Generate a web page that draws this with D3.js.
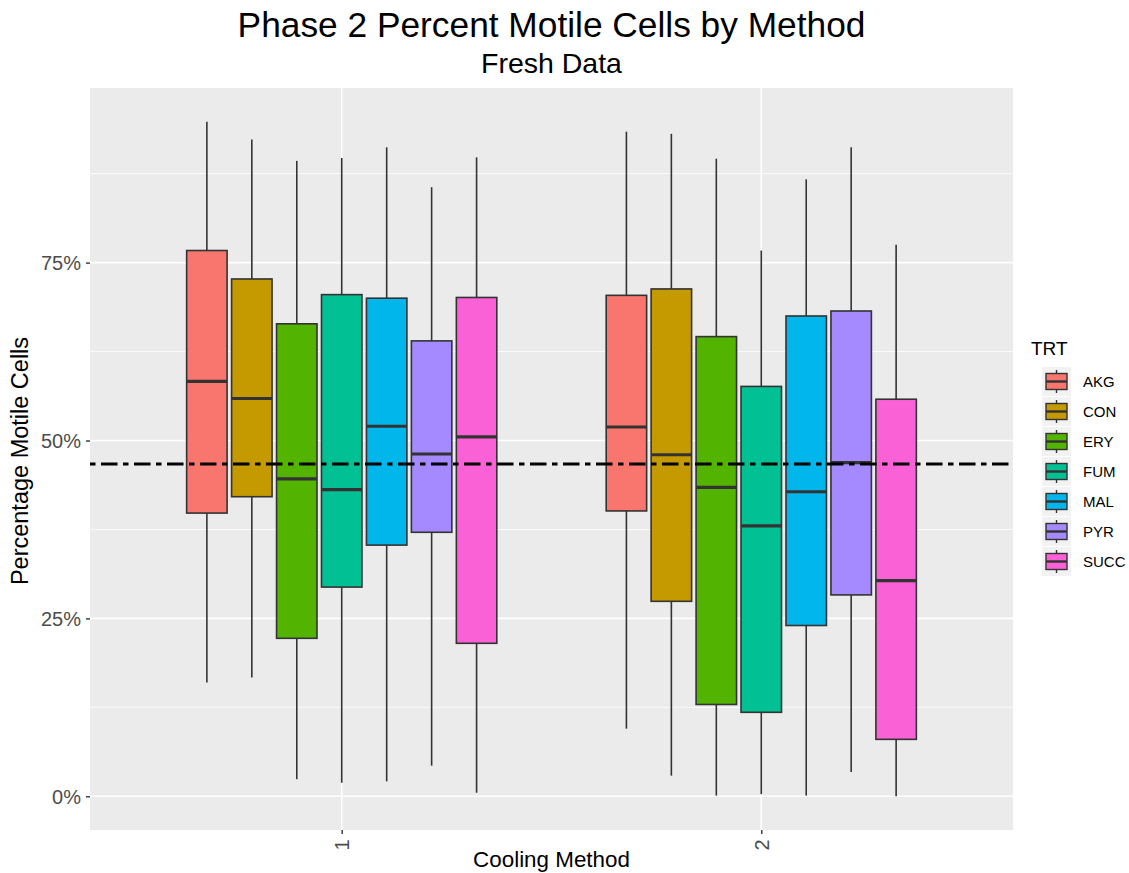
<!DOCTYPE html>
<html>
<head>
<meta charset="utf-8">
<script src="https://cdn.jsdelivr.net/npm/d3@7/dist/d3.min.js"></script>
<style>
  html, body { margin: 0; padding: 0; background: #ffffff; }
  svg { display: block; font-family: "Liberation Sans", Arial, sans-serif; }
</style>
</head>
<body>
<svg id="chart" width="1129" height="873"></svg>
<script>
// Treatments (fill groups) and cooling methods (x categories)
const treatments = ["AKG", "CON", "ERY", "FUM", "MAL", "PYR", "SUCC"];
const methods = ["1", "2"];
const colors = ["#F8766D", "#C49A00", "#53B400", "#00C094", "#00B6EB", "#A58AFF", "#FB61D7"];

// Box summaries (percent) per method, in treatment order
const lowM1    = [16.0, 16.7,  2.4,  1.9,  2.1,  4.3,  0.5];
const q1M1     = [39.8, 42.1, 22.2, 29.4, 35.3, 37.1, 21.5];
const medianM1 = [58.3, 55.9, 44.6, 43.1, 52.0, 48.1, 50.5];
const q3M1     = [76.7, 72.7, 66.4, 70.5, 70.0, 64.0, 70.1];
const highM1   = [94.8, 92.3, 89.3, 89.7, 91.2, 85.6, 89.8];

const lowM2    = [ 9.5,  2.9,  0.1,  0.3,  0.1,  3.4,  0.0];
const q1M2     = [40.1, 27.4, 12.9, 11.8, 24.0, 28.3,  8.0];
const medianM2 = [51.9, 48.0, 43.4, 38.0, 42.8, 46.9, 30.3];
const q3M2     = [70.4, 71.3, 64.6, 57.6, 67.5, 68.2, 55.8];
const highM2   = [93.4, 93.1, 89.6, 76.7, 86.7, 91.2, 77.5];

// Overall reference line (percent)
const referenceLine = 46.7;

const yTicks = [0, 25, 50, 75];
const yMinor = [12.5, 37.5, 62.5, 87.5];

const titleText = "Phase 2 Percent Motile Cells by Method";
const subtitleText = "Fresh Data";
const xTitle = "Cooling Method";
const yTitle = "Percentage Motile Cells";
const legendTitle = "TRT";

// Build one record per box
const summaries = [
  { low: lowM1, q1: q1M1, med: medianM1, q3: q3M1, high: highM1 },
  { low: lowM2, q1: q1M2, med: medianM2, q3: q3M2, high: highM2 }
];
const boxes = [];
methods.forEach((m, mi) => {
  const s = summaries[mi];
  treatments.forEach((t, ti) => {
    boxes.push({ method: m, trt: t, color: colors[ti],
      low: s.low[ti], q1: s.q1[ti], med: s.med[ti], q3: s.q3[ti], high: s.high[ti] });
  });
});

const svg = d3.select("#chart");
const panel = { left: 90, right: 1013, top: 88, bottom: 830 };

// Scales
const dataMax = d3.max(boxes, d => d.high);
const dataMin = d3.min(boxes, d => d.low);
const pad = (dataMax - dataMin) * 0.05;
const y = d3.scaleLinear().domain([dataMin - pad, dataMax + pad]).range([panel.bottom, panel.top]);
const x = d3.scalePoint().domain(methods).range([panel.left, panel.right]).padding(0.6);
const step = x.step();
const dodge = d3.scaleBand().domain(treatments)
  .range([-0.375 * step, 0.375 * step]).paddingInner(0.1).paddingOuter(0.05);
const color = d3.scaleOrdinal().domain(treatments).range(colors);

// Panel background and grid
svg.append("rect").attr("x", panel.left).attr("y", panel.top)
  .attr("width", panel.right - panel.left).attr("height", panel.bottom - panel.top)
  .attr("fill", "#EBEBEB");

const grid = svg.append("g");
grid.selectAll("line.minor").data(yMinor).join("line")
  .attr("x1", panel.left).attr("x2", panel.right)
  .attr("y1", d => y(d)).attr("y2", d => y(d))
  .attr("stroke", "#ffffff").attr("stroke-width", 0.8);
grid.selectAll("line.majorY").data(yTicks).join("line")
  .attr("x1", panel.left).attr("x2", panel.right)
  .attr("y1", d => y(d)).attr("y2", d => y(d))
  .attr("stroke", "#ffffff").attr("stroke-width", 1.6);
grid.selectAll("line.majorX").data(methods).join("line")
  .attr("x1", d => x(d)).attr("x2", d => x(d))
  .attr("y1", panel.top).attr("y2", panel.bottom)
  .attr("stroke", "#ffffff").attr("stroke-width", 1.6);

// Boxplots
const boxG = svg.append("g");
const bw = dodge.bandwidth();
const cx = d => x(d.method) + dodge(d.trt) + bw / 2;

boxG.selectAll("line.wTop").data(boxes).join("line")
  .attr("x1", cx).attr("x2", cx)
  .attr("y1", d => y(d.q3)).attr("y2", d => y(d.high))
  .attr("stroke", "#333333").attr("stroke-width", 1.6);
boxG.selectAll("line.wBot").data(boxes).join("line")
  .attr("x1", cx).attr("x2", cx)
  .attr("y1", d => y(d.q1)).attr("y2", d => y(d.low))
  .attr("stroke", "#333333").attr("stroke-width", 1.6);
boxG.selectAll("rect.box").data(boxes).join("rect")
  .attr("x", d => cx(d) - bw / 2).attr("width", bw)
  .attr("y", d => y(d.q3)).attr("height", d => y(d.q1) - y(d.q3))
  .attr("fill", d => color(d.trt))
  .attr("stroke", "#333333").attr("stroke-width", 1.6);
boxG.selectAll("line.median").data(boxes).join("line")
  .attr("x1", d => cx(d) - bw / 2).attr("x2", d => cx(d) + bw / 2)
  .attr("y1", d => y(d.med)).attr("y2", d => y(d.med))
  .attr("stroke", "#333333").attr("stroke-width", 3.2);

// Reference line
svg.append("line")
  .attr("x1", panel.left).attr("x2", panel.right)
  .attr("y1", y(referenceLine)).attr("y2", y(referenceLine))
  .attr("stroke", "#000000").attr("stroke-width", 2.8)
  .attr("stroke-dasharray", "5.5,5.5,16.5,5.5");

// Axes
const yAxis = d3.axisLeft(y).tickValues(yTicks).tickSize(4).tickPadding(5)
  .tickFormat(d => d + "%");
const yAxisG = svg.append("g").attr("transform", `translate(${panel.left},0)`).call(yAxis);
yAxisG.select(".domain").remove();
yAxisG.selectAll(".tick line").attr("stroke", "#333333").attr("stroke-width", 1.4);
yAxisG.selectAll(".tick text").attr("fill", "#4D4D4D")
  .style("font-size", "20px").attr("dy", "0.36em");

const xAxis = d3.axisBottom(x).tickSize(4).tickPadding(0);
const xAxisG = svg.append("g").attr("transform", `translate(0,${panel.bottom})`).call(xAxis);
xAxisG.select(".domain").remove();
xAxisG.selectAll(".tick line").attr("stroke", "#333333").attr("stroke-width", 1.4);
xAxisG.selectAll(".tick text").attr("fill", "#4D4D4D").style("font-size", "20px")
  .attr("transform", "translate(0,15) rotate(-90)")
  .attr("y", 0).attr("x", 0).attr("dy", "0.36em")
  .attr("text-anchor", "middle");

// Titles
svg.append("text").attr("x", (panel.left + panel.right) / 2).attr("y", 37)
  .attr("text-anchor", "middle").style("font-size", "35.3px").attr("fill", "#000")
  .text(titleText);
svg.append("text").attr("x", (panel.left + panel.right) / 2).attr("y", 73)
  .attr("text-anchor", "middle").style("font-size", "28.5px").attr("fill", "#000")
  .text(subtitleText);
svg.append("text").attr("x", (panel.left + panel.right) / 2).attr("y", 867)
  .attr("text-anchor", "middle").style("font-size", "22.4px").attr("fill", "#000")
  .text(xTitle);
svg.append("text")
  .attr("transform", `translate(28,${(panel.top + panel.bottom) / 2 + 2}) rotate(-90)`)
  .attr("text-anchor", "middle").style("font-size", "23.5px").attr("fill", "#000")
  .text(yTitle);

// Legend
const legend = svg.append("g").attr("transform", "translate(1042,0)");
legend.append("text").attr("x", -11).attr("y", 355)
  .style("font-size", "19px").attr("fill", "#000").text(legendTitle);
const keySize = 29, keyStep = 30, keyTop = 367;
const items = legend.selectAll("g.item").data(treatments).join("g")
  .attr("transform", (d, i) => `translate(0,${keyTop + i * keyStep})`);
items.append("rect").attr("width", keySize).attr("height", keySize).attr("fill", "#F2F2F2");
items.append("line").attr("x1", keySize / 2).attr("x2", keySize / 2)
  .attr("y1", 3).attr("y2", keySize - 3)
  .attr("stroke", "#333333").attr("stroke-width", 1.4);
items.append("rect").attr("x", 4).attr("y", 6.5).attr("width", keySize - 8).attr("height", keySize - 13)
  .attr("fill", d => color(d)).attr("stroke", "#333333").attr("stroke-width", 1.4);
items.append("line").attr("x1", 4).attr("x2", keySize - 4)
  .attr("y1", keySize / 2).attr("y2", keySize / 2)
  .attr("stroke", "#333333").attr("stroke-width", 2.4);
items.append("text").attr("x", keySize + 12).attr("y", keySize / 2).attr("dy", "0.36em")
  .style("font-size", "15px").attr("fill", "#000").text(d => d);
</script>
</body>
</html>
